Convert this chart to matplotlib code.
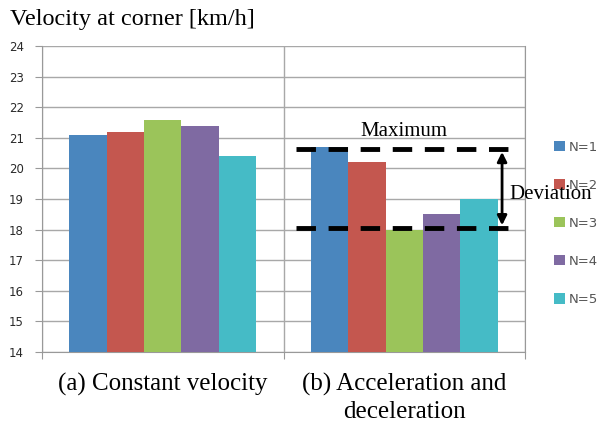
import matplotlib.pyplot as plt
import numpy as np

# data
groups = ['(a) Constant velocity', '(b) Acceleration and\ndeceleration']
series = ['N=1', 'N=2', 'N=3', 'N=4', 'N=5']
constant = [21.1, 21.2, 21.6, 21.4, 20.4]
accel = [20.7, 20.2, 18.0, 18.5, 19.0]
dev_max = 20.63
dev_min = 18.05
colors = ['#4A86BE', '#C4574F', '#9BC45A', '#7F6AA2', '#45BBC6']

fig = plt.figure(figsize=(5.97, 4.23), dpi=100)
ax = fig.add_axes([0.0704, 0.168, 0.809, 0.723])

x = np.arange(len(groups))
w = 0.155
for i, name in enumerate(series):
    vals = [constant[i], accel[i]]
    ax.bar(x + (i - 2) * w, vals, w, color=colors[i], label=name, zorder=3)

ax.set_ylim(14, 24)
ax.set_xlim(-0.5, 1.5)
ax.set_yticks(np.arange(14, 25, 1))
ax.set_xticks([-0.5, 0.5, 1.5])
ax.set_xticklabels([])
ax.set_xticks(x, minor=True)
ax.set_xticklabels(groups, minor=True, family='Liberation Serif', fontsize=18, linespacing=1.3)
ax.tick_params(axis='x', which='minor', length=0, pad=15)
ax.tick_params(axis='x', which='major', length=5, color='#999999')
ax.tick_params(axis='y', length=5, color='#999999', labelsize=8.5, labelcolor='#2a2a2a', pad=8)
ax.grid(True, which='major', color='#a8a8a8', linewidth=1, zorder=0)
for s in ax.spines.values():
    s.set_color('#999999')
ax.spines['top'].set_visible(False)

# deviation markers on group (b)
ax.plot([0.55, 1.43], [dev_max, dev_max], color='black', lw=3.5, ls=(0, (4, 2.6)), zorder=5)
ax.plot([0.55, 1.43], [dev_min, dev_min], color='black', lw=3.5, ls=(0, (4, 2.6)), zorder=5)
ax.annotate('', xy=(1.405, dev_min), xytext=(1.405, dev_max),
            arrowprops=dict(arrowstyle='<|-|>', color='black', lw=2, mutation_scale=14), zorder=6)
ax.text(1.0, 21.2, 'Maximum', family='Liberation Serif', fontsize=15, ha='center', va='center', zorder=6)
ax.text(1.435, 19.15, 'Deviation', family='Liberation Serif', fontsize=15, ha='left', va='center', zorder=6)

leg = ax.legend(loc='upper left', bbox_to_anchor=(1.035, 0.73), frameon=False, fontsize=9.5,
                handlelength=0.85, handleheight=0.85, handletextpad=0.3, labelspacing=1.9)
for t in leg.get_texts():
    t.set_color('#555555')

fig.text(0.017, 0.955, 'Velocity at corner [km/h]', family='Liberation Serif', fontsize=17.5,
         ha='left', va='center')

fig.savefig('out.png', dpi=100)
